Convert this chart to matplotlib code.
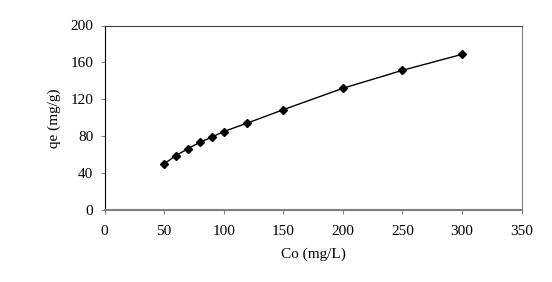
import matplotlib
matplotlib.use("Agg")
import matplotlib.pyplot as plt

# Initial concentration vs equilibrium uptake
co = [50, 60, 70, 80, 90, 100, 120, 150, 200, 250, 300]
qe = [50, 59, 66.5, 73.3, 79, 85, 94.3, 108.7, 131.9, 151.4, 168.7]

plt.rcParams['font.family'] = ['Liberation Serif', 'DejaVu Serif']

fig = plt.figure(figsize=(5.52, 2.82), dpi=100)
ax = fig.add_axes([104.5 / 552, 1 - 210 / 282, 417 / 552, 184.5 / 282])

ax.plot(co, qe, color='black', lw=1.0, marker='D', ms=4.5)

ax.set_xlim(0, 350)
ax.set_ylim(0, 200)
ax.set_xticks(range(0, 351, 50))
ax.set_yticks(range(0, 201, 40))
ax.tick_params(direction='out', length=3, width=0.8, labelsize=11, color='#808080')
ax.tick_params(axis='x', pad=8)
ax.tick_params(axis='y', pad=5)
ax.set_xlabel('Co (mg/L)', fontsize=11, labelpad=7)
ax.set_ylabel('qe (mg/g)', fontsize=11, labelpad=7)

ax.spines['left'].set_color('black')
ax.spines['bottom'].set_color('#808080')
ax.spines['bottom'].set_linewidth(1.5)
ax.spines['top'].set_color('#404040')
ax.spines['right'].set_color('#808080')

fig.savefig('out.png', dpi=100)
